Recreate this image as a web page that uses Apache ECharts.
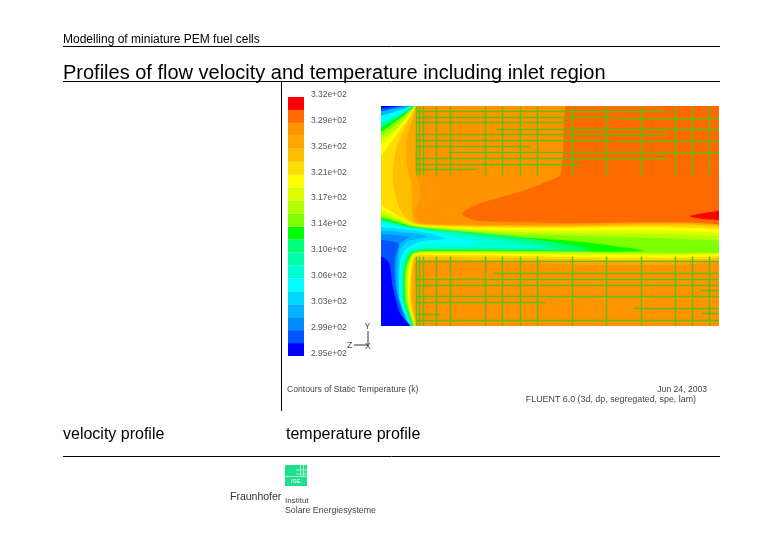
<!DOCTYPE html>
<html>
<head>
<meta charset="utf-8">
<style>html,body{margin:0;padding:0;background:#fff}#main{width:780px;height:540px}</style>
<script src="https://cdn.jsdelivr.net/npm/echarts@6/dist/echarts.min.js"></script>
</head>
<body>
<div id="main"></div>
<script>
// colour legend, coldest level first
var levelColors = ['#0000ff','#0055ff','#008cff','#00b4ff','#00d8ff','#00ffff','#00ffd2','#00ffaa','#00ff78','#00ff00',
                   '#80ff00','#b4ff00','#dcff00','#ffff00','#ffdc00','#ffbe00','#ffa500','#ff9400','#ff6a00','#ff0000'];
var levels = [0,1,2,3,4,5,6,7,8,9,10,11,12,13,14,15,16,17,18,19];
var tickLabels = ['2.95e+02','2.99e+02','3.03e+02','3.06e+02','3.10e+02','3.14e+02','3.17e+02','3.21e+02','3.25e+02','3.29e+02','3.32e+02'];

// temperature bands, drawn warmest region first, each [level, outline]; x runs 3-1017 and y 18-678 along the cut plane,
// outlines run past the edge of the plot and get clipped there
var bandLevels = [17,18,19,16,15,14,13,13,12,11,10,9,8,7,6,5,4,3,2,1,0,12,11,10,9,7,5,3,1,0];
var bandOutlines = [
  [[-200,-200],[1300,-200],[1300,900],[-200,900]],
  [[578,-20],[1060,-20],[1060,376],[700,372],[500,368],[290,362],[245,342],[300,310],[420,275],[500,245],[540,225],[548,170]],
  [[928,348],[1017,332],[1060,330],[1060,362],[1017,360],[960,356]],
  [[108,-10],[105,200],[122,280],[105,345],[125,370],[400,374],[1060,378],[1060,485],[120,485],[105,492],[105,700],[-30,700],[-30,-10]],
  [[108,-10],[80,120],[80,190],[95,260],[100,360],[130,374],[500,377],[1060,382],[1060,480],[120,480],[102,487],[96,600],[105,700],[-30,700],[-30,-10]],
  [[108,-10],[50,140],[38,230],[50,300],[70,345],[110,372],[500,380],[1060,386],[1060,472],[125,470],[100,478],[92,600],[104,700],[-30,700],[-30,-10]],
  [[108,5],[45,110],[-30,195],[-30,-10]],
  [[-30,305],[40,338],[105,374],[400,384],[1060,392],[1060,466],[130,464],[100,472],[88,600],[103,700],[-30,700]],
  [[-30,330],[60,350],[110,376],[400,390],[1060,402],[1060,460],[130,460],[104,467],[86,520],[86,600],[102,700],[-30,700]],
  [[-30,342],[110,378],[400,396],[1060,412],[1060,458],[130,457],[100,463],[84,510],[84,600],[101,700],[-30,700]],
  [[-30,350],[100,378],[400,402],[1060,425],[1060,456],[130,455],[98,462],[80,510],[80,600],[100,700],[-30,700]],
  [[-30,358],[110,382],[400,410],[600,425],[790,453],[130,453],[95,462],[76,510],[76,600],[98,700],[-30,700]],
  [[-30,363],[100,382],[300,400],[480,420],[630,450],[130,451],[92,462],[74,510],[74,600],[97,700],[-30,700]],
  [[-30,366],[90,382],[300,405],[440,425],[540,448],[135,449],[90,460],[72,505],[72,600],[96,700],[-30,700]],
  [[-30,370],[90,385],[250,405],[380,425],[480,442],[140,445],[88,458],[69,495],[69,600],[95,700],[-30,700]],
  [[-30,379],[100,385],[170,400],[300,432],[130,436],[85,450],[65,490],[65,600],[92,700],[-30,700]],
  [[-30,394],[120,395],[200,415],[120,425],[75,450],[60,490],[60,600],[90,700],[-30,700]],
  [[-30,404],[100,400],[140,410],[80,425],[60,450],[55,490],[58,600],[87,700],[-30,700]],
  [[-30,414],[90,410],[60,430],[50,480],[52,580],[84,700],[-30,700]],
  [[-30,430],[55,430],[44,480],[46,560],[72,655],[90,700],[-30,700]],
  [[-30,462],[25,485],[38,560],[60,640],[85,670],[105,700],[-30,700]],
  [[108,5],[40,100],[-30,160],[-30,-10]],
  [[108,5],[45,90],[-30,133],[-30,-10]],
  [[108,5],[40,80],[-30,120],[-30,-10]],
  [[108,5],[40,70],[-30,108],[-30,-10]],
  [[108,5],[50,55],[-30,92],[-30,-10]],
  [[108,5],[60,42],[-30,75],[-30,-10]],
  [[108,8],[60,30],[-30,50],[-30,-10]],
  [[108,10],[50,23],[-30,36],[-30,-10]],
  [[108,12],[50,19],[-30,26],[-30,-10]]
];

// mesh: vertical lines are [x, y0, y1], horizontal are [y, x0, x1]
var meshVerticalX = [110,118,130,170,212,316,368,422,472,578,680,784,886,938,988];
var meshUpperY = [18,226];
var meshLowerY = [468,678];
var meshHorizontal = [
  [35,110,860],[52,110,700],[55,715,1017],[68,110,560],[87,350,1017],[104,110,860],[122,110,700],[125,710,1017],
  [140,110,450],[158,205,1017],[176,110,860],[193,110,600],[207,110,290],
  [485,110,1017],[520,340,1017],[537,110,1017],[555,110,1017],[572,960,1017],[590,110,1017],[607,110,495],
  [625,760,1017],[643,110,180],[640,965,1017],[660,110,1017]
];

var meshColor = '#62bc14';
var font = 'Liberation Sans';

function bandItem(params, api) {
  var i = api.value(0);
  var pts = bandOutlines[i].map(function (p) { return api.coord(p); });
  return { type: 'polygon', shape: { points: pts, smooth: i > 0 ? 0.25 : 0 }, style: { fill: levelColors[bandLevels[i]] } };
}
function meshItem(params, api) {
  var a = api.coord([api.value(0), api.value(1)]);
  var b = api.coord([api.value(2), api.value(3)]);
  // snap to the pixel grid, the slightly wider stroke keeps thin lines visible on the orange
  var x1 = Math.floor(a[0]) + 0.5, y1 = Math.floor(a[1]) + 0.5;
  var x2 = Math.floor(b[0]) + 0.5, y2 = Math.floor(b[1]) + 0.5;
  return { type: 'line', shape: { x1: x1, y1: y1, x2: x2, y2: y2 }, style: { stroke: meshColor, lineWidth: 1.5 } };
}
function legendItem(params, api) {
  var a = api.coord([0, api.value(0) + 1]);
  var b = api.coord([1, api.value(0)]);
  return { type: 'rect', shape: { x: a[0], y: a[1], width: b[0] - a[0], height: b[1] - a[1] }, style: { fill: levelColors[api.value(0)] } };
}

var meshData = [];
meshVerticalX.forEach(function (x) {
  meshData.push([x, meshUpperY[0], x, meshUpperY[1]]);
  meshData.push([x, meshLowerY[0], x, meshLowerY[1]]);
});
meshHorizontal.forEach(function (h) { meshData.push([h[1], h[0], h[2], h[0]]); });

function label(x, y, text, size, color, align) {
  return { type: 'text', x: x, y: y, silent: true,
    style: { text: text, font: size + 'px "' + font + '"', fill: color, align: align || 'left', verticalAlign: 'middle' } };
}
function rule(x1, y1, x2, y2, color, w) {
  return { type: 'line', silent: true, shape: { x1: x1, y1: y1, x2: x2, y2: y2 }, style: { stroke: color, lineWidth: w || 1 } };
}

var chart = echarts.init(document.getElementById('main'));
chart.setOption({
  animation: false,
  backgroundColor: '#fff',
  grid: [
    { left: 381, top: 106, width: 338, height: 220 },
    { left: 288, top: 97, width: 16, height: 259 }
  ],
  xAxis: [
    { gridIndex: 0, type: 'value', min: 3, max: 1017, show: false },
    { gridIndex: 1, type: 'value', min: 0, max: 1, show: false }
  ],
  yAxis: [
    { gridIndex: 0, type: 'value', min: 18, max: 678, inverse: true, show: false },
    { gridIndex: 1, type: 'value', min: 0, max: 20, interval: 2, position: 'right',
      axisLine: { show: false }, axisTick: { show: false }, splitLine: { show: false },
      axisLabel: { margin: 7, fontSize: 8.5, fontFamily: font, color: '#555', verticalAlign: 'bottom', lineHeight: 5,
        showMinLabel: true, showMaxLabel: true, hideOverlap: false,
        formatter: function (v) { return tickLabels[v / 2]; } } }
  ],
  series: [
    { type: 'custom', xAxisIndex: 0, yAxisIndex: 0, renderItem: bandItem, silent: true, clip: true,
      data: bandOutlines.map(function (o, i) { return [i]; }), encode: { x: -1, y: -1 } },
    { type: 'custom', xAxisIndex: 0, yAxisIndex: 0, renderItem: meshItem, silent: true, clip: true,
      data: meshData, encode: { x: [0, 2], y: [1, 3] } },
    { type: 'custom', xAxisIndex: 1, yAxisIndex: 1, renderItem: legendItem, silent: true,
      data: levels.map(function (l) { return [l]; }), encode: { x: -1, y: 0 } }
  ],
  graphic: [
    label(63, 40, 'Modelling of miniature PEM fuel cells', 12, '#000'),
    label(63, 73, 'Profiles of flow velocity and temperature including inlet region', 20, '#000'),
    rule(63, 46.5, 720, 46.5, '#000'),
    rule(63, 81.5, 720, 81.5, '#000'),
    rule(281.5, 82, 281.5, 411, '#000'),
    rule(63, 456.5, 720, 456.5, '#000'),
    label(63, 435, 'velocity profile', 16, '#000'),
    label(286, 435, 'temperature profile', 16, '#000'),
    label(287, 390, 'Contours of Static Temperature (k)', 8.6, '#444'),
    label(707, 390, 'Jun 24, 2003', 8.6, '#444', 'right'),
    label(696, 400, 'FLUENT 6.0 (3d, dp, segregated, spe, lam)', 8.9, '#444', 'right'),
    rule(368, 345, 368, 331, '#333'), rule(368, 345, 354, 345, '#333'),
    label(364.5, 327, 'Y', 8.5, '#444'), label(347, 346, 'Z', 8.5, '#444'), label(365, 347, 'X', 8.5, '#444'),
    { type: 'rect', silent: true, shape: { x: 285, y: 465, width: 22, height: 21 }, style: { fill: '#1fe08c' } },
    rule(296, 470, 307, 470, '#a6f2d0'), rule(296, 474, 307, 474, '#a6f2d0'), rule(285, 476.5, 307, 476.5, '#a6f2d0'),
    rule(300.5, 465, 300.5, 476, '#a6f2d0'), rule(303.5, 465, 303.5, 476, '#a6f2d0'),
    label(291, 481, 'ISE', 6, '#fff'),
    label(230, 497, 'Fraunhofer', 10.5, '#333'),
    label(285, 501, 'Institut', 8, '#444'),
    label(285, 511, 'Solare Energiesysteme', 8.8, '#444')
  ]
});
</script>
</body>
</html>
